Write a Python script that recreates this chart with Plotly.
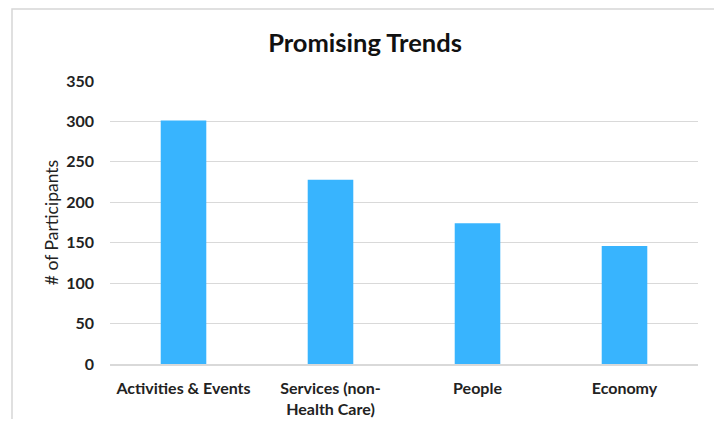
import plotly.graph_objects as go

categories = ["Activities & Events", "Services (non-<br>Health Care)", "People", "Economy"]
values = [301, 228, 174, 146]
y_ticks = [0, 50, 100, 150, 200, 250, 300, 350]

# page has an 8px body margin; figure sized to fit inside it
W, H = 706, 411
ml, mr, mt, mb = 102, 16, 73, 55
pw, ph = W - ml - mr, H - mt - mb

def px_x(px):
    return (px - ml) / pw

def px_y(py):
    return (H - mb - py) / ph

fig = go.Figure(go.Bar(
    x=categories, y=values,
    marker=dict(color="#38b4fe", line=dict(width=0)),
    width=0.31,
))

fig.update_layout(
    width=W, height=H,
    margin=dict(l=ml, r=mr, t=mt, b=mb, autoexpand=False),
    paper_bgcolor="white", plot_bgcolor="white",
    font=dict(family="Lato", color="#222"),
    title=dict(text="<b>Promising Trends</b>", x=357 / W, xref="container", xanchor="center",
               y=1 - 35 / H, yanchor="middle",
               font=dict(size=25.5, family="Lato", color="#111")),
    showlegend=False,
    shapes=[dict(type="rect", xref="paper", yref="paper",
                 x0=px_x(4), x1=px_x(709), y0=px_y(430), y1=px_y(1),
                 line=dict(color="#d6d6d6", width=1.5), fillcolor="rgba(0,0,0,0)",
                 layer="below")],
)

fig.update_xaxes(
    tickfont=dict(size=16, family="Lato", color="#222", weight="bold"),
    showline=True, linecolor="#d9d9d9", linewidth=1.5, automargin=False,
    ticks="", showgrid=False, ticklabelstandoff=9,
)
fig.update_yaxes(
    range=[0, 350], tickvals=y_ticks, automargin=False,
    tickfont=dict(size=16, family="Lato", color="#222", weight="bold"),
    gridcolor="#d9d9d9", gridwidth=1.3,
    zeroline=False, ticks="", ticklabelstandoff=15,
    title=dict(text="# of Participants", font=dict(size=17.5, family="Lato", color="#222"), standoff=3),
)

fig.write_html("out.html")
